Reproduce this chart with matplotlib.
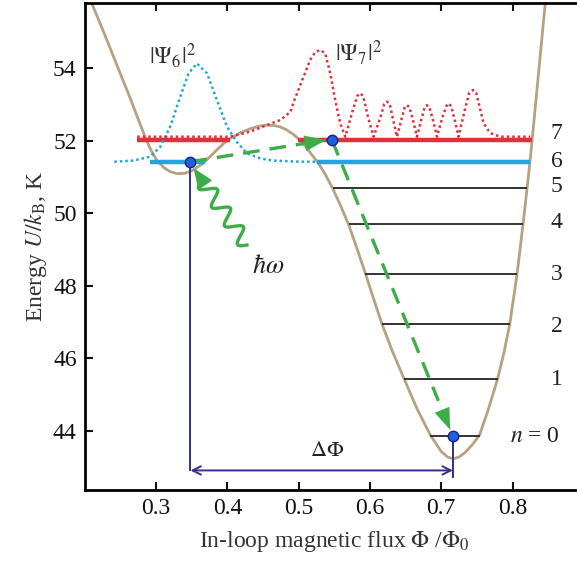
import numpy as np
import matplotlib
matplotlib.use('Agg')
import matplotlib.pyplot as plt

plt.rcParams['font.family'] = ['Liberation Serif', 'DejaVu Serif']
plt.rcParams['mathtext.fontset'] = 'stix'

# potential curve U(phi)
phi = [0.2074, 0.2106, 0.2270, 0.2457, 0.2645, 0.2785, 0.2860, 0.2930, 0.3010, 0.3112,
       0.3200, 0.3299, 0.3400, 0.3500, 0.3600, 0.3660, 0.3760, 0.3852, 0.3950, 0.4039,
       0.4180, 0.4319, 0.4440, 0.4554, 0.4650, 0.4740, 0.4830, 0.4927, 0.5021, 0.5100,
       0.5161, 0.5220, 0.5278, 0.5370, 0.5474, 0.5580, 0.5699, 0.5815, 0.5933, 0.6050,
       0.6168, 0.6320, 0.6481, 0.6660, 0.6846, 0.7000, 0.7090, 0.7168, 0.7250, 0.7337,
       0.7440, 0.7538, 0.7660, 0.7790, 0.7880, 0.7962, 0.8064, 0.8148, 0.8205, 0.8245,
       0.8276, 0.8360, 0.8460, 0.8470]
U = [55.88, 55.74, 54.96, 54.04, 53.12, 52.40, 52.02, 51.72, 51.45, 51.25,
     51.14, 51.09, 51.10, 51.17, 51.30, 51.38, 51.57, 51.75, 51.93, 52.06,
     52.22, 52.33, 52.40, 52.43, 52.42, 52.38, 52.30, 52.17, 52.01, 51.83,
     51.67, 51.52, 51.37, 51.08, 50.69, 50.24, 49.69, 49.04, 48.35, 47.64,
     46.94, 46.16, 45.42, 44.60, 43.88, 43.42, 43.27, 43.22, 43.27, 43.40,
     43.62, 43.88, 44.58, 45.42, 46.15, 46.94, 48.32, 49.69, 50.69, 51.42,
     52.02, 53.75, 55.80, 55.95]

# energy levels n = 0..7
level_n = [0, 1, 2, 3, 4, 5, 6, 7]
level_E = [43.85, 45.42, 46.94, 48.32, 49.69, 50.69, 51.42, 52.02]
level_left = [0.6846, 0.6481, 0.6168, 0.5933, 0.5699, 0.5474, 0.5262, 0.4985]
level_right = [0.7538, 0.7790, 0.7962, 0.8064, 0.8148, 0.8205, 0.8245, 0.8276]
# parts of levels 6 and 7 inside the left well
left_well_left = [0.2916, 0.2733]
left_well_right = [0.3680, 0.4039]
level_label_y = [43.85, 45.40, 46.87, 48.30, 49.73, 50.73, 51.42, 52.21]

# |psi_6|^2
psi6_x = [0.2411, 0.2677, 0.2916, 0.3056, 0.3196, 0.3337, 0.3453, 0.3571, 0.3712, 0.3852,
          0.3992, 0.4133, 0.4273, 0.4460, 0.4646, 0.5021, 0.5274]
psi6_y = [51.42, 51.45, 51.56, 51.83, 52.39, 53.21, 53.86, 54.13, 53.86, 53.12,
          52.39, 51.96, 51.65, 51.51, 51.45, 51.42, 51.42]

# |psi_7|^2
psi7_x = [0.2733, 0.4039, 0.4319, 0.4554, 0.4740, 0.4881, 0.4951, 0.5067, 0.5161, 0.5232,
          0.5302, 0.5372, 0.5442, 0.5512, 0.5582, 0.5653,
          0.5751, 0.5821, 0.5863, 0.5905, 0.5975, 0.6050,
          0.6144, 0.6200, 0.6238, 0.6277, 0.6326, 0.6378,
          0.6439, 0.6488, 0.6519, 0.6551, 0.6607, 0.6659,
          0.6719, 0.6768, 0.6799, 0.6832, 0.6888, 0.6940,
          0.7014, 0.7070, 0.7102, 0.7140, 0.7196, 0.7243,
          0.7323, 0.7393, 0.7445, 0.7491, 0.7594, 0.7688, 0.7828, 0.8249]
psi7_y = [52.11, 52.11, 52.25, 52.43, 52.57, 52.79, 53.18, 53.76, 54.23, 54.45,
          54.50, 54.41, 53.86, 53.12, 52.48, 52.11,
          52.79, 53.23, 53.31, 53.23, 52.63, 52.11,
          52.63, 53.01, 53.08, 53.01, 52.57, 52.11,
          52.57, 52.93, 52.98, 52.93, 52.54, 52.11,
          52.57, 52.93, 52.98, 52.93, 52.54, 52.11,
          52.63, 52.95, 53.03, 52.95, 52.52, 52.11,
          52.79, 53.32, 53.40, 53.32, 52.48, 52.21, 52.11, 52.11]

# transition points
dots_x = [0.348, 0.5466, 0.7164]
dots_y = [51.42, 52.02, 43.85]
arrow_tips_x = [0.5386, 0.7126]
arrow_tips_y = [52.02, 44.02]
dphi_y = 42.90
right_foot_y = 42.73

c_curve = '#b5a283'
c_red = '#e0303a'
c_cyan = '#22a5dc'
c_green = '#3dad4a'
c_navy = '#35318a'

fig = plt.figure(figsize=(5.77, 5.62), dpi=100)
ax = fig.add_axes([85 / 577, 72 / 562, 498.75 / 577, 487 / 562])
ax.set_xlim(0.2, 0.9)
ax.set_ylim(42.36, 55.80)

ax.plot(phi, U, color=c_curve, lw=2, zorder=2)

# levels
for n, E, a, b in zip(level_n, level_E, level_left, level_right):
    if n == 7:
        col, lw = c_red, 3.2
    elif n == 6:
        col, lw = c_cyan, 3.2
    else:
        col, lw = '#333333', 1.4
    ax.plot([a, b], [E, E], color=col, lw=lw, zorder=3, solid_capstyle='butt')
ax.plot([left_well_left[0], left_well_right[0]], [level_E[6], level_E[6]], color=c_cyan, lw=3.2,
        zorder=3, solid_capstyle='butt')
ax.plot([left_well_left[1], left_well_right[1]], [level_E[7], level_E[7]], color=c_red, lw=3.2,
        zorder=3, solid_capstyle='butt')

# wave functions
ax.plot(psi6_x, psi6_y, color=c_cyan, lw=1.8, ls=(0, (1, 1.2)), zorder=4)
ax.plot(psi7_x, psi7_y, color=c_red, lw=1.8, ls=(0, (1, 1.2)), zorder=4)

# dashed transitions
starts = [(dots_x[0], dots_y[0]), (dots_x[1], dots_y[1])]
for (x0, y0), x1, y1 in zip(starts, arrow_tips_x, arrow_tips_y):
    ax.plot([x0, x0 + 0.9 * (x1 - x0)], [y0, y0 + 0.9 * (y1 - y0)], color=c_green, lw=2.4,
            dashes=(5, 3), zorder=5)
    ax.annotate('', xy=(x1, y1), xytext=(x0 + 0.85 * (x1 - x0), y0 + 0.85 * (y1 - y0)),
                arrowprops=dict(arrowstyle='-|>,head_length=1.1,head_width=0.4', mutation_scale=14,
                                color=c_green, lw=0.1, shrinkA=0, shrinkB=0), zorder=5)

# photon (wavy arrow)
photon_start = (0.4273, 49.12)
photon_tip = (0.3524, 51.24)
p0 = ax.transData.transform(photon_start)
p1 = ax.transData.transform(photon_tip)
d = p1 - p0
L = np.hypot(*d)
u = d / L
perp = np.array([-u[1], u[0]])
wave_len = L - 14
t = np.linspace(0, 1, 300)
pts = p0 + np.outer(t * wave_len, u) + np.outer(7.5 * np.sin(2 * np.pi * 3.5 * t), perp)
wpts = ax.transData.inverted().transform(pts)
ax.plot(wpts[:, 0], wpts[:, 1], color=c_green, lw=2.4, zorder=5)
base = ax.transData.inverted().transform(p0 + u * (wave_len - 2))
ax.annotate('', xy=photon_tip, xytext=tuple(base),
            arrowprops=dict(arrowstyle='-|>,head_length=1.1,head_width=0.45', mutation_scale=11,
                            color=c_green, lw=1.5, shrinkA=0, shrinkB=0), zorder=5)

# delta phi
ax.plot([dots_x[0], dots_x[0]], [dots_y[0], dphi_y], color=c_navy, lw=1.4, zorder=4)
ax.plot([dots_x[2], dots_x[2]], [dots_y[2], right_foot_y], color=c_navy, lw=1.4, zorder=4)
ax.annotate('', xy=(dots_x[0], dphi_y), xytext=(dots_x[2], dphi_y),
            arrowprops=dict(arrowstyle='<->,head_length=0.6,head_width=0.3',
                            color=c_navy, lw=1.4, shrinkA=0, shrinkB=0), zorder=4)
ax.text(0.5396, 43.42, r'$\Delta\Phi$', fontsize=16, ha='center', va='center', color='#222222')

ax.plot(dots_x, dots_y, 'o', ms=7.5, mfc='#1f5fe0', mec='#1a237e', mew=1, ls='none', zorder=6)

# labels
ax.text(0.3225, 54.36, r'$|\Psi_6|^2$', fontsize=17, ha='center', va='center', color='#333333')
ax.text(0.5835, 54.42, r'$|\Psi_7|^2$', fontsize=17, ha='center', va='center', color='#333333')
ax.text(0.4576, 48.52, r'$\hbar\omega$', fontsize=19, ha='center', va='center', color='#222222')
for n, y in zip(level_n, level_label_y):
    if n == 0:
        ax.text(0.867, y, r'$n$ = 0', fontsize=17, ha='right', va='center', color='#222222')
    else:
        ax.text(0.862, y, str(n), fontsize=17, ha='center', va='center', color='#222222')

ax.set_xticks([0.3, 0.4, 0.5, 0.6, 0.7, 0.8])
ax.set_xticklabels(['0.3', '0.4', '0.5', '0.6', '0.7', '0.8'])
ax.set_yticks([44, 46, 48, 50, 52, 54])
ax.set_yticklabels(['44', '46', '48', '50', '52', '54'])
ax.tick_params(direction='in', top=True, right=False, length=6, width=1.5, labelsize=17,
               pad=6, colors='#111111')
for lbl in ax.get_xticklabels() + ax.get_yticklabels():
    lbl.set_fontfamily('Liberation Serif')
for s in ['left', 'bottom', 'top']:
    ax.spines[s].set_linewidth(2)
ax.spines['right'].set_visible(False)

ax.set_xlabel(r'In-loop magnetic flux $\Phi$ /$\Phi_0$', fontsize=17, color='#333333', labelpad=7)
ax.set_ylabel(r'Energy $U/k_{\rm B}$, K', fontsize=17, color='#333333', labelpad=3)

fig.savefig('out.png', dpi=100)
